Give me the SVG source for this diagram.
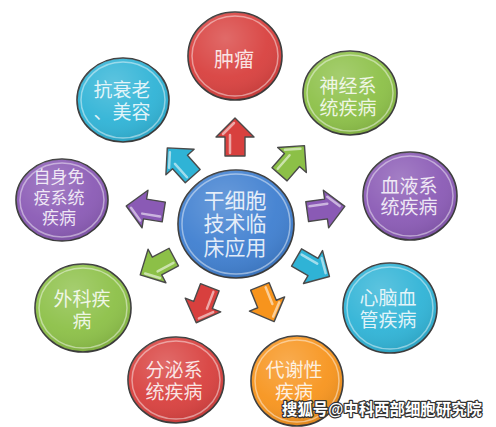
<svg xmlns="http://www.w3.org/2000/svg" xmlns:xlink="http://www.w3.org/1999/xlink" width="496" height="427" viewBox="0 0 496 427">
<defs>
<radialGradient id="gloss" cx="0.4" cy="0.3" r="0.75">
<stop offset="0" stop-color="#fff" stop-opacity="0.22"/>
<stop offset="0.6" stop-color="#fff" stop-opacity="0.05"/>
<stop offset="1" stop-color="#000" stop-opacity="0.12"/>
</radialGradient>
<path id="arr" d="M-19,-10 L0,-10 L0,-19 L19,0 L0,19 L0,10 L-19,10 Z"/>
<path id="arrHi" d="M-16,-5 L2,-5 M3,-12 L14,-1"/>
<style>
.ring{stroke:#3c3c3c;stroke-width:1.6}
.inner{fill:none;stroke:#fff;stroke-opacity:0.45;stroke-width:1.5}
.gl{fill:url(#gloss)}
.t{font-family:"Liberation Serif","Noto Sans CJK SC",sans-serif;fill:#fff;fill-opacity:0.85;text-anchor:middle;font-size:19px}
.arrow{stroke:#4a4a4a;stroke-width:1.4;stroke-linejoin:round}
.hi{fill:none;stroke:#fff;stroke-opacity:0.55;stroke-width:2.5;stroke-linecap:round}
.wm{font-family:"Liberation Sans","Noto Sans CJK SC",sans-serif;font-weight:bold;font-size:16px;fill:#fff;stroke:#333;stroke-width:2.5;paint-order:stroke;stroke-linejoin:round}
</style>
</defs>
<rect width="496" height="427" fill="#fff"/>

<g id="connectors">
<g transform="translate(235,137) rotate(-90)"><use xlink:href="#arr" class="arrow" fill="#d8403e"/><use xlink:href="#arrHi" class="hi"/></g>
<g transform="translate(180,162) rotate(-132)"><use xlink:href="#arr" class="arrow" fill="#2fb3d6"/><use xlink:href="#arrHi" class="hi"/></g>
<g transform="translate(292,160) rotate(-49)"><use xlink:href="#arr" class="arrow" fill="#8cc047"/><use xlink:href="#arrHi" class="hi"/></g>
<g transform="translate(145,209) rotate(-171)"><use xlink:href="#arr" class="arrow" fill="#8a5ab5"/><use xlink:href="#arrHi" class="hi"/></g>
<g transform="translate(326,209) rotate(-8)"><use xlink:href="#arr" class="arrow" fill="#8a5ab5"/><use xlink:href="#arrHi" class="hi"/></g>
<g transform="translate(313,267) rotate(30)"><use xlink:href="#arr" class="arrow" fill="#2fb3d6"/><use xlink:href="#arrHi" class="hi"/></g>
<g transform="translate(157,266) rotate(152)"><use xlink:href="#arr" class="arrow" fill="#8cc047"/><use xlink:href="#arrHi" class="hi"/></g>
<g transform="translate(203,305) rotate(111)"><use xlink:href="#arr" class="arrow" fill="#d8403e"/><use xlink:href="#arrHi" class="hi"/></g>
<g transform="translate(267,304) rotate(68)"><use xlink:href="#arr" class="arrow" fill="#f7941d"/><use xlink:href="#arrHi" class="hi"/></g>
</g>

<g id="center">
<ellipse cx="236" cy="224" rx="58" ry="54" fill="#3f7fd0" class="ring"/>
<ellipse cx="236" cy="224" rx="58" ry="54" class="gl"/>
<ellipse cx="236" cy="224" rx="54" ry="50" class="inner"/>
<text class="t" style="font-size:21px" x="235" y="207.5">干细胞<tspan x="235" dy="23.5">技术临</tspan><tspan x="235" dy="23.5">床应用</tspan></text>
</g>

<g id="tumor">
<ellipse cx="235" cy="56" rx="47" ry="44" fill="#d8403e" class="ring"/>
<ellipse cx="235" cy="56" rx="47" ry="44" class="gl"/>
<ellipse cx="235" cy="56" rx="43" ry="40" class="inner"/>
<text class="t" style="font-size:20px" x="234" y="67">肿瘤</text>
</g>

<g id="neuro">
<ellipse cx="350" cy="93" rx="47" ry="42" fill="#8cc047" class="ring"/>
<ellipse cx="350" cy="93" rx="47" ry="42" class="gl"/>
<ellipse cx="350" cy="93" rx="43" ry="38" class="inner"/>
<text class="t" x="348" y="93">神经系<tspan x="348" dy="21.8">统疾病</tspan></text>
</g>

<g id="antiaging">
<ellipse cx="123" cy="100" rx="46" ry="42" fill="#2fb3d6" class="ring"/>
<ellipse cx="123" cy="100" rx="46" ry="42" class="gl"/>
<ellipse cx="123" cy="100" rx="42" ry="38" class="inner"/>
<text class="t" x="122" y="97">抗衰老<tspan x="122" dy="21.8">、美容</tspan></text>
</g>

<g id="autoimmune">
<ellipse cx="62" cy="200" rx="46" ry="41" fill="#8a5ab5" class="ring"/>
<ellipse cx="62" cy="200" rx="46" ry="41" class="gl"/>
<ellipse cx="62" cy="200" rx="42" ry="37" class="inner"/>
<text class="t" style="font-size:17px" x="59" y="182.5">自身免<tspan x="59" dy="21">疫系统</tspan><tspan x="59" dy="20">疾病</tspan></text>
</g>

<g id="blood">
<ellipse cx="410" cy="196" rx="47" ry="44" fill="#8a5ab5" class="ring"/>
<ellipse cx="410" cy="196" rx="47" ry="44" class="gl"/>
<ellipse cx="410" cy="196" rx="43" ry="40" class="inner"/>
<text class="t" x="409" y="192.5">血液系<tspan x="409" dy="21.8">统疾病</tspan></text>
</g>

<g id="cardio">
<ellipse cx="390" cy="308" rx="47" ry="45" fill="#2fb3d6" class="ring"/>
<ellipse cx="390" cy="308" rx="47" ry="45" class="gl"/>
<ellipse cx="390" cy="308" rx="43" ry="41" class="inner"/>
<text class="t" x="388" y="305">心脑血<tspan x="388" dy="22">管疾病</tspan></text>
</g>

<g id="surgery">
<ellipse cx="83" cy="308" rx="48" ry="44" fill="#8cc047" class="ring"/>
<ellipse cx="83" cy="308" rx="48" ry="44" class="gl"/>
<ellipse cx="83" cy="308" rx="44" ry="40" class="inner"/>
<text class="t" x="82" y="306">外科疾<tspan x="82" dy="21.8">病</tspan></text>
</g>

<g id="endocrine">
<ellipse cx="176" cy="380" rx="48" ry="43" fill="#d8403e" class="ring"/>
<ellipse cx="176" cy="380" rx="48" ry="43" class="gl"/>
<ellipse cx="176" cy="380" rx="44" ry="39" class="inner"/>
<text class="t" x="174" y="377">分泌系<tspan x="174" dy="22">统疾病</tspan></text>
</g>

<g id="metabolic">
<ellipse cx="297" cy="381" rx="46" ry="45" fill="#f7941d" class="ring"/>
<ellipse cx="297" cy="381" rx="46" ry="45" class="gl"/>
<ellipse cx="297" cy="381" rx="42" ry="41" class="inner"/>
<text class="t" x="294" y="377">代谢性<tspan x="294" dy="21.8">疾病</tspan></text>
</g>

<text class="wm" x="282" y="415" textLength="200" lengthAdjust="spacingAndGlyphs">搜狐号@中科西部细胞研究院</text>
</svg>
